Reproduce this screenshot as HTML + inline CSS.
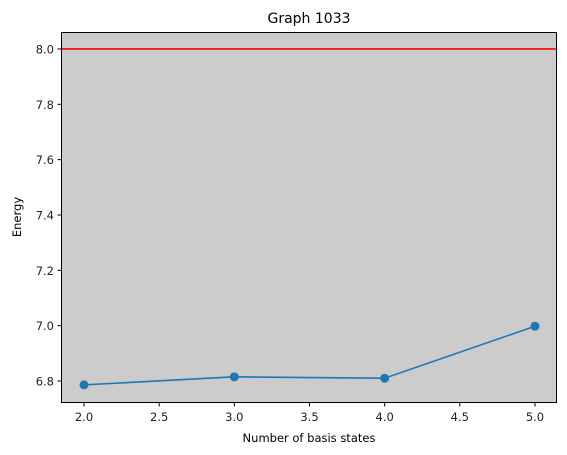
<!DOCTYPE html>
<html><head><meta charset="utf-8"><style>
body{margin:0;background:#fff}
svg{font-family:"DejaVu Sans","Liberation Sans",sans-serif;display:block}
</style></head><body>
<svg id="chart" width="567" height="455">
<rect x="61.5" y="32.5" width="495" height="370" fill="#cccccc"/>
<g id="marks"></g>
<rect x="61.5" y="32.5" width="495" height="370" fill="none" stroke="#000" stroke-width="1"/>
<g id="axes" font-size="11.5" fill="#222"></g>
<text x="309" y="23" text-anchor="middle" font-size="14">Graph 1033</text>
<text x="309" y="442" text-anchor="middle" font-size="11.5">Number of basis states</text>
<text transform="translate(21,217) rotate(-90)" text-anchor="middle" font-size="11.5">Energy</text>
</svg>
<script>
const xValues=[2,3,4,5];
const energyValues=[6.786,6.815,6.810,6.998];
const referenceEnergy=8.0;
const xTicks=[2.0,2.5,3.0,3.5,4.0,4.5,5.0];
const yTicks=[6.8,7.0,7.2,7.4,7.6,7.8,8.0];
const NS="http://www.w3.org/2000/svg";
function sx(v){return 84+(v-2)*150.33;}
function sy(v){return 381-(v-6.8)*276.7;}
function mk(tag,attrs,parent){const e=document.createElementNS(NS,tag);for(const k in attrs)e.setAttribute(k,attrs[k]);parent.appendChild(e);return e;}
const marks=document.getElementById('marks'),axes=document.getElementById('axes');
const ref=mk('line',{x1:61.5,x2:556.5,y1:sy(referenceEnergy),y2:sy(referenceEnergy),stroke:'#ff0000','stroke-width':1.6},marks);


const pts=xValues.map((x,i)=>sx(x)+','+sy(energyValues[i])).join(' ');
const line=mk('polyline',{points:pts,fill:'none',stroke:'#1f77b4','stroke-width':1.6},marks);


xValues.forEach((x,i)=>{
 const c=mk('circle',{cx:sx(x),cy:sy(energyValues[i]),r:4.5,fill:'#1f77b4'},marks);
 
 
});
xTicks.forEach(t=>{
 const x=sx(t);
 mk('line',{x1:x,x2:x,y1:402.5,y2:406.5,stroke:'#000'},axes);
 const tx=mk('text',{x:x,y:421,'text-anchor':'middle'},axes);tx.textContent=t.toFixed(1);
 
 
});
yTicks.forEach(t=>{
 const y=sy(t);
 mk('line',{x1:57.5,x2:61.5,y1:y,y2:y,stroke:'#000'},axes);
 const tx=mk('text',{x:54,y:y+4.5,'text-anchor':'end'},axes);tx.textContent=t.toFixed(1);
 
 
});
</script>
</body></html>
